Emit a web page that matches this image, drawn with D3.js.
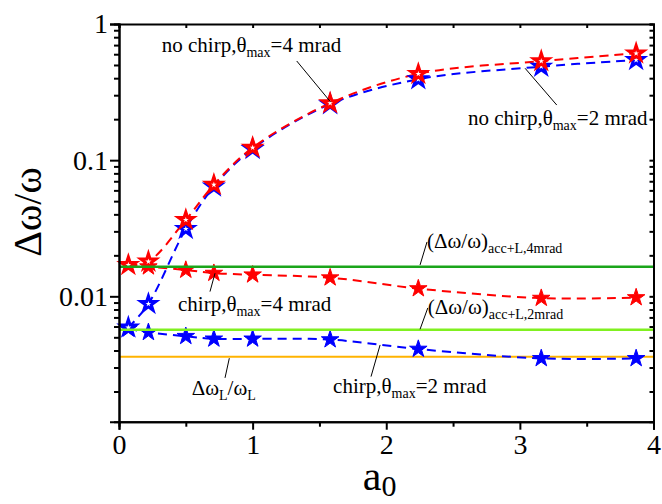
<!DOCTYPE html>
<html>
<head>
<meta charset="utf-8">
<script src="https://cdnjs.cloudflare.com/ajax/libs/d3/7.8.5/d3.min.js"></script>
<style>
  body { margin: 0; background: #fff; }
  .axis path, .axis line { stroke: #000; stroke-width: 2px; }
</style>
</head>
<body>
<script>
// a0 values where the runs were done
var a0 = [0.07, 0.22, 0.5, 0.71, 1.0, 1.58, 2.24, 3.16, 3.87];
// delta omega / omega for each case
var noChirp4 = [0.0170, 0.0180, 0.0364, 0.066, 0.1236, 0.262, 0.43, 0.534, 0.609];
var noChirp2 = [0.0059, 0.0088, 0.0313, 0.064, 0.121, 0.258, 0.393, 0.486, 0.544];
var chirp4 = [0.0170, 0.0165, 0.0156, 0.0148, 0.0144, 0.0137, 0.0114, 0.0097, 0.0098];
var chirp2 = [0.00577, 0.00544, 0.00509, 0.00487, 0.00487, 0.00481, 0.0041, 0.0035, 0.0035];
// horizontal reference levels
var acc4 = 0.0165;
var acc2 = 0.00567;
var laser = 0.0036;

var xTicks = [0, 1, 2, 3, 4];
var xMinor = [0.5, 1.5, 2.5, 3.5];
var yTicks = [0.01, 0.1, 1];
var yMinor = [0.002, 0.003, 0.004, 0.005, 0.006, 0.007, 0.008, 0.009,
              0.02, 0.03, 0.04, 0.05, 0.06, 0.07, 0.08, 0.09,
              0.2, 0.3, 0.4, 0.5, 0.6, 0.7, 0.8, 0.9];

var serif = "Liberation Serif";

var margin = {top: 24, right: 8.5, bottom: 82.3, left: 119},
    width = 662 - margin.left - margin.right,
    height = 504 - margin.top - margin.bottom;

var x = d3.scaleLinear().domain([0, 4]).range([0, width]);
var y = d3.scaleLog().domain([0.0012, 1]).range([height, 0]);

var svg = d3.select("body").append("svg")
    .attr("width", 662)
    .attr("height", 504)
  .append("g")
    .attr("transform", "translate(" + margin.left + "," + margin.top + ")");

function rows(vals) {
  return a0.map(function(a, i) { return {a: a, v: vals[i]}; });
}

var line = d3.line()
    .curve(d3.curveCatmullRom)
    .x(function(d) { return x(d.a); })
    .y(function(d) { return y(d.v); });

// orange laser bandwidth line (under the markers)
svg.append("line")
    .attr("x1", 0).attr("x2", width)
    .attr("y1", y(laser)).attr("y2", y(laser))
    .style("stroke", "#ffb300").style("stroke-width", 2);

var series = [
  {vals: chirp2, color: "#0000ff", open: false},
  {vals: chirp4, color: "#ff0000", open: false},
  {vals: noChirp2, color: "#0000ff", open: true},
  {vals: noChirp4, color: "#ff0000", open: true}
];

series.forEach(function(s) {
  svg.append("path")
      .datum(rows(s.vals))
      .attr("d", line)
      .style("fill", "none")
      .style("stroke", s.color)
      .style("stroke-width", 2)
      .style("stroke-dasharray", "9,6");
});

var star = d3.symbol().type(d3.symbolStar);

series.forEach(function(s) {
  svg.selectAll(null)
      .data(rows(s.vals))
      .enter().append("path")
      .attr("transform", function(d) { return "translate(" + x(d.a) + "," + y(d.v) + ")"; })
      .attr("d", star.size(s.open ? 70 : 95))
      .style("fill", s.open ? "#fff" : s.color)
      .style("stroke", s.color)
      .style("stroke-width", s.open ? 3 : 1)
      .style("stroke-linejoin", "miter");
});

// green acceptance lines on top
[[acc4, "#1aa51a"], [acc2, "#80f020"]].forEach(function(h) {
  svg.append("line")
      .attr("x1", 0).attr("x2", width)
      .attr("y1", y(h[0])).attr("y2", y(h[0]))
      .style("stroke", h[1]).style("stroke-width", 2.5);
});

// axes
svg.append("g").attr("class", "axis")
    .attr("transform", "translate(0," + height + ")")
    .call(d3.axisBottom(x).tickValues(xTicks).tickSize(8).tickPadding(4).tickFormat(d3.format("d")));
svg.append("g").attr("class", "axis")
    .attr("transform", "translate(0," + height + ")")
    .call(d3.axisBottom(x).tickValues(xMinor).tickSize(5).tickFormat(""));
svg.append("g").attr("class", "axis")
    .call(d3.axisTop(x).tickValues(xTicks.concat(xMinor)).tickSize(-4).tickFormat(""));

svg.append("g").attr("class", "axis")
    .call(d3.axisLeft(y).tickValues(yTicks).tickSize(9).tickPadding(2).tickFormat(function(d) { return String(d); }));
svg.append("g").attr("class", "axis")
    .call(d3.axisLeft(y).tickValues(yMinor).tickSize(5).tickFormat(""));
svg.append("g").attr("class", "axis")
    .attr("transform", "translate(" + width + ",0)")
    .call(d3.axisRight(y).tickValues(yTicks.concat(yMinor)).tickSize(-4).tickFormat(""));

svg.selectAll(".axis text")
    .style("font-family", serif)
    .style("font-size", "28px")
    .style("fill", "#000");

// axis titles
svg.append("text")
    .attr("transform", "rotate(-90)")
    .attr("x", -(212 - margin.top))
    .attr("y", 41 - margin.left)
    .attr("text-anchor", "middle")
    .style("font-family", serif)
    .style("font-size", "40px")
    .text("\u0394\u03c9/\u03c9");

var xt = svg.append("text")
    .attr("x", x(1.95))
    .attr("y", height + 68)
    .attr("text-anchor", "middle")
    .style("font-family", serif)
    .style("font-size", "42px");
xt.append("tspan").text("a");
xt.append("tspan").attr("dy", 6).style("font-size", "30px").text("0");

// annotations: text at (a0, value), leader line between two (a0, value) points
var notes = [
  {tx: 0.32, ty: 0.618, parts: [["no chirp,\u03b8", 0], ["max", 1], ["=4 mrad", 0]],
   l: [1.33, 0.535, 1.583, 0.268]},
  {tx: 2.612, ty: 0.1813, parts: [["no chirp,\u03b8", 0], ["max", 1], ["=2 mrad", 0]],
   l: [3.039, 0.473, 3.276, 0.254]},
  {tx: 2.305, ty: 0.02278, parts: [["(\u0394\u03c9/\u03c9)", 0], ["acc+L,4mrad", 1]],
   l: [2.305, 0.02508, 2.253, 0.0170]},
  {tx: 2.311, ty: 0.00743, parts: [["(\u0394\u03c9/\u03c9)", 0], ["acc+L,2mrad", 1]],
   l: [2.311, 0.00822, 2.253, 0.00573]},
  {tx: 0.4416, ty: 0.00781, parts: [["chirp,\u03b8", 0], ["max", 1], ["=4 mrad", 0]],
   l: [0.681, 0.01083, 0.7186, 0.01478]},
  {tx: 1.602, ty: 0.001954, parts: [["chirp,\u03b8", 0], ["max", 1], ["=2 mrad", 0]],
   l: [1.886, 0.002573, 1.954, 0.004396]},
  {tx: 0.544, ty: 0.001888, parts: [["\u0394\u03c9", 0], ["L", 1], ["/\u03c9", 0], ["L", 1]],
   l: [0.7934, 0.002518, 0.8256, 0.003512]}
];

notes.forEach(function(n) {
  svg.append("line")
      .attr("x1", x(n.l[0])).attr("y1", y(n.l[1]))
      .attr("x2", x(n.l[2])).attr("y2", y(n.l[3]))
      .style("stroke", "#000").style("stroke-width", 1);
  var t = svg.append("text")
      .attr("x", x(n.tx))
      .attr("y", y(n.ty))
      .style("font-family", serif)
      .style("font-size", "21px");
  var down = 0;
  n.parts.forEach(function(p) {
    var shift = p[1] ? 5 : 0;
    t.append("tspan")
        .attr("dy", shift - down)
        .style("font-size", p[1] ? "14px" : "21px")
        .text(p[0]);
    down = shift;
  });
});
</script>
</body>
</html>
